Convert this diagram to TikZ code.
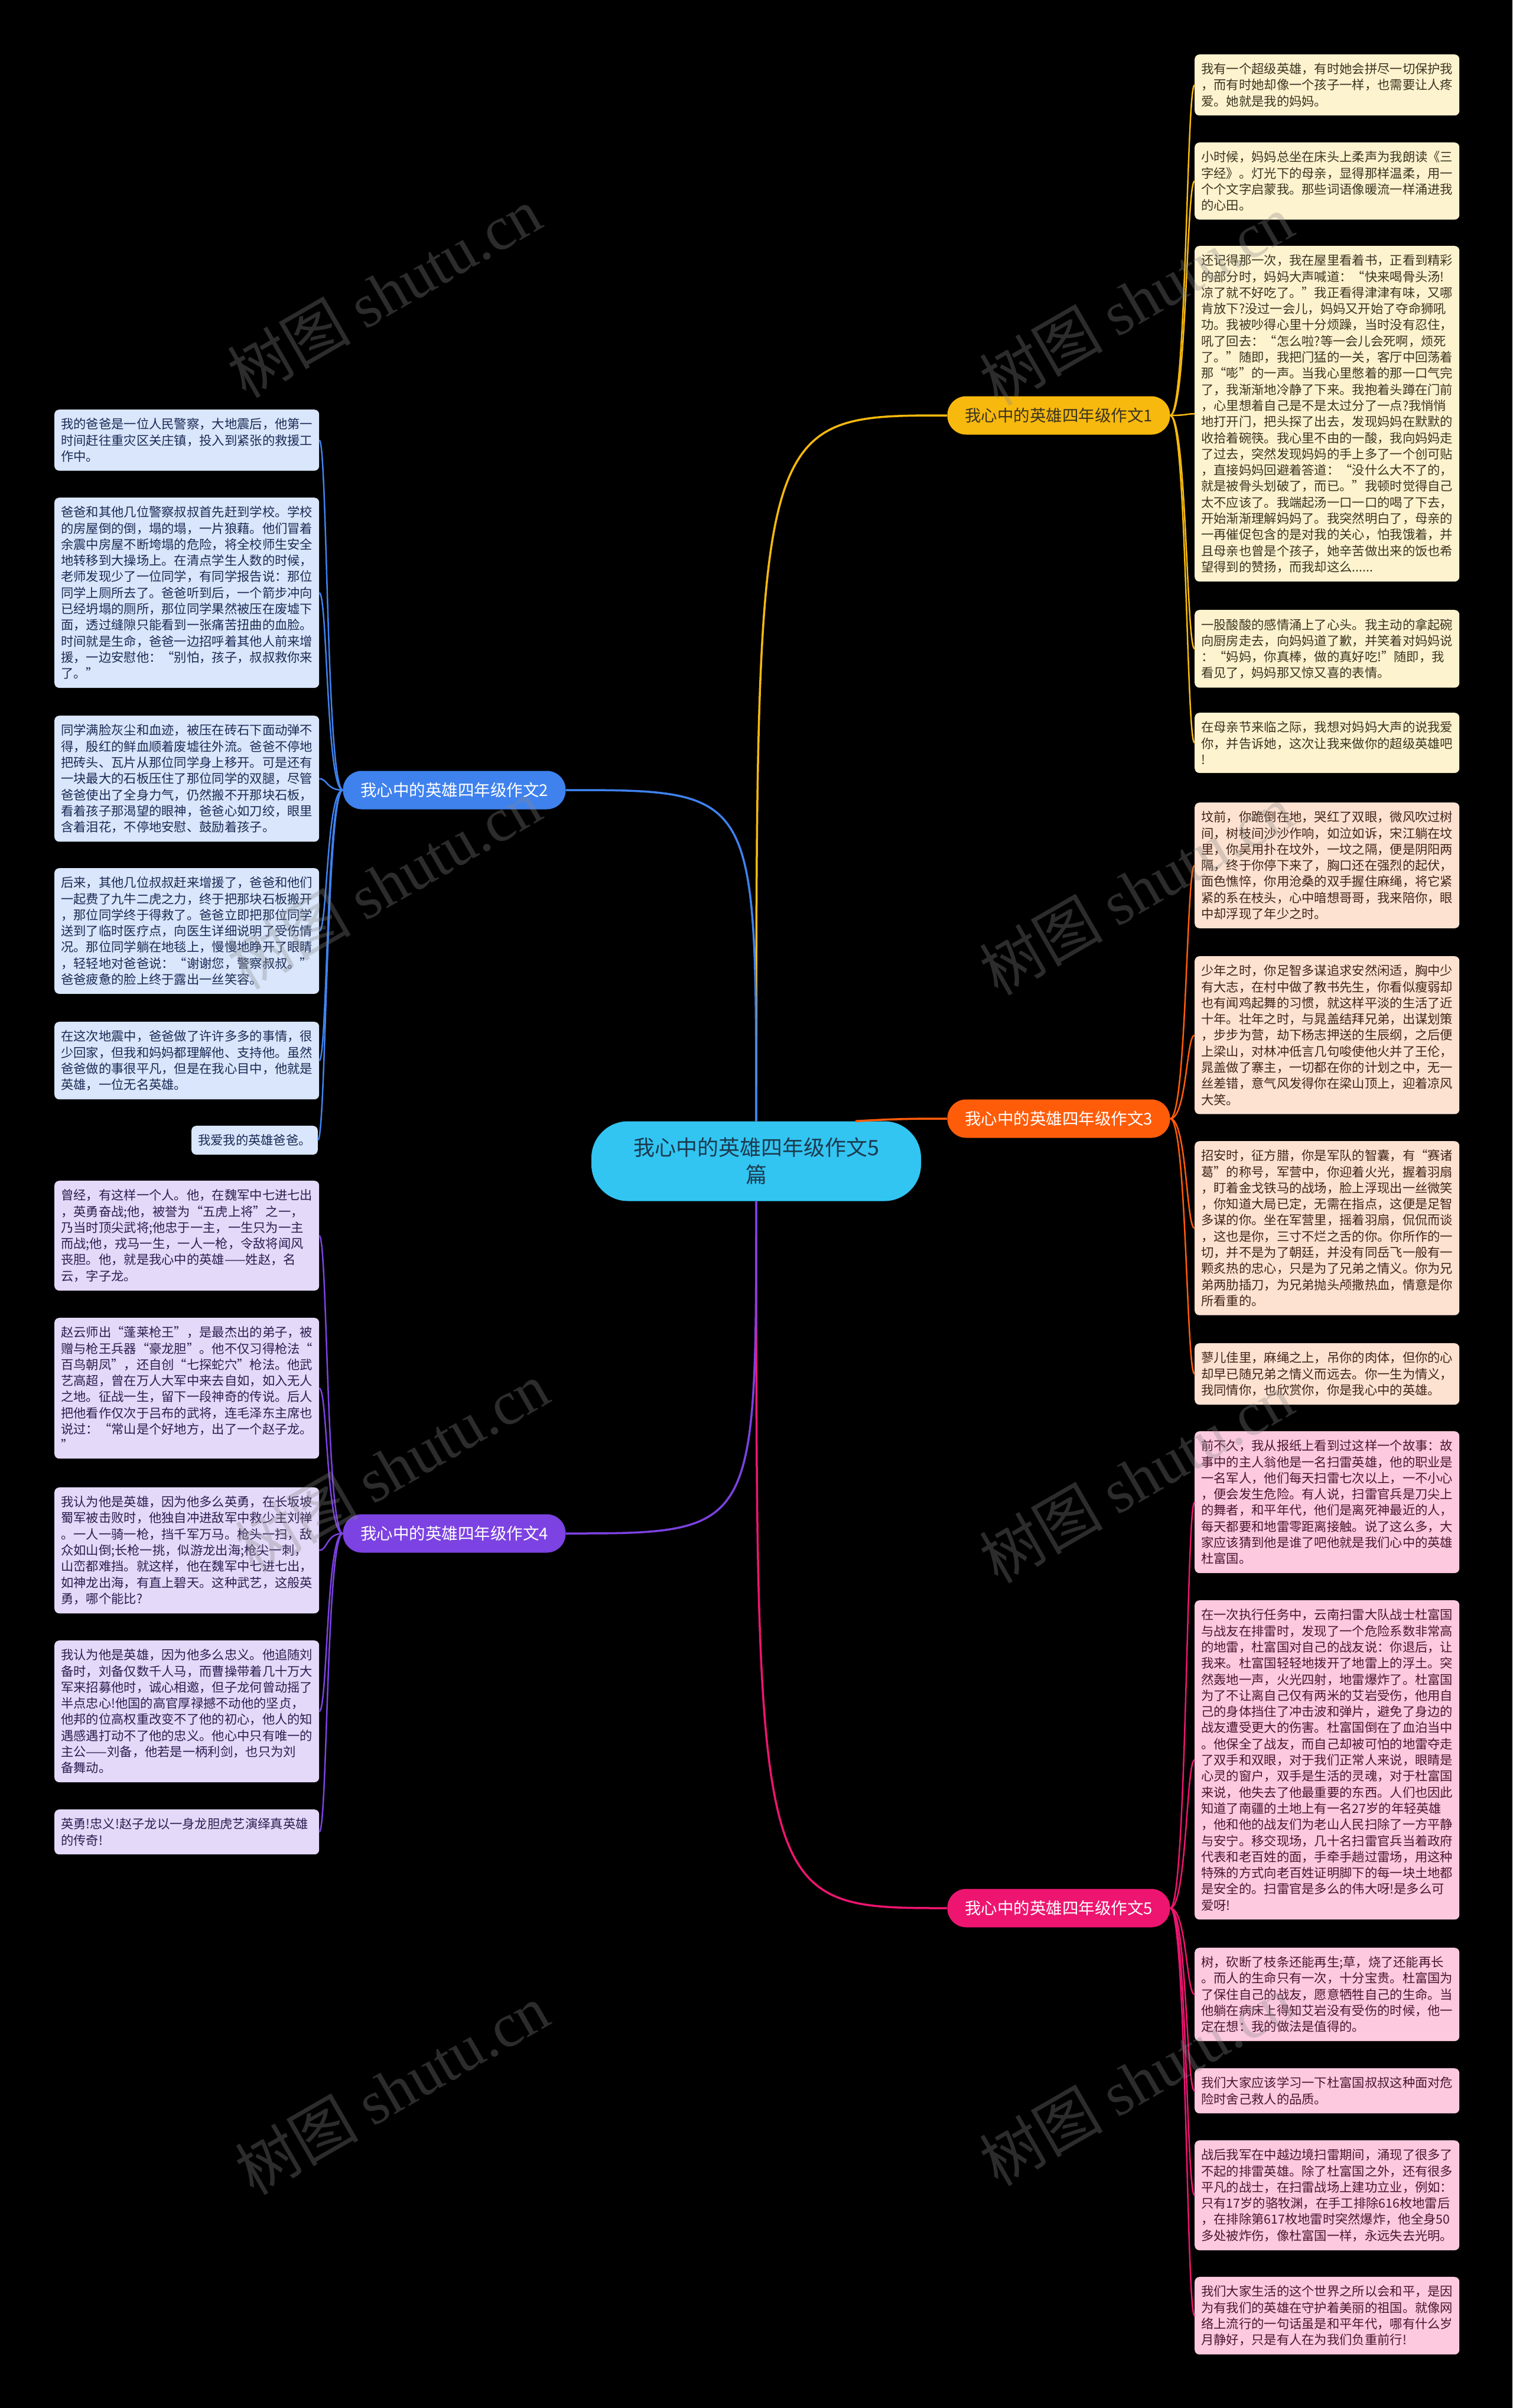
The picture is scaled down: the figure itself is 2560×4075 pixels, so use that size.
\documentclass[tikz,border=0pt]{standalone}
\usepackage{fontspec}
\newfontfamily\cjk{Noto Sans CJK SC}
\newfontfamily\wmlat{Liberation Serif}
\definecolor{bgc}{HTML}{000000}
\definecolor{cfill}{HTML}{32C5F2}
\definecolor{ctext}{HTML}{1C3A4E}
\definecolor{ybr}{HTML}{F7B90E}
\definecolor{obr}{HTML}{FF5C0A}
\definecolor{pbr}{HTML}{EE1570}
\definecolor{bbr}{HTML}{3F82EE}
\definecolor{vbr}{HTML}{7C42E2}
\definecolor{yfill}{HTML}{FEF3CF}
\definecolor{ofill}{HTML}{FDE2D2}
\definecolor{pfill}{HTML}{FDC9DF}
\definecolor{bfill}{HTML}{D9E6FB}
\definecolor{vfill}{HTML}{E4D9F9}
\definecolor{ytext}{HTML}{3A3420}
\definecolor{otext}{HTML}{402418}
\definecolor{ptext}{HTML}{4A1530}
\definecolor{btext}{HTML}{1B2A55}
\definecolor{vtext}{HTML}{2C1E50}
\definecolor{wmc}{HTML}{888888}
\newcommand\leaffont{\cjk\fontsize{21.3pt}{27.3pt}\selectfont}
\newcommand\branchfont{\cjk\fontsize{27.5pt}{33pt}\selectfont}
\newcommand\centerfont{\cjk\fontsize{36pt}{46pt}\selectfont}
\tikzset{
  leafbase/.style={rounded corners=8pt, inner xsep=11pt, inner ysep=14.5pt, align=left, font=\leaffont},
  wideleaf/.style={leafbase, text width=426pt, anchor=north west},
  yleaf/.style={wideleaf, fill=yfill, text=ytext},
  oleaf/.style={wideleaf, fill=ofill, text=otext},
  pleaf/.style={wideleaf, fill=pfill, text=ptext},
  bleaf/.style={wideleaf, fill=bfill, text=btext},
  vleaf/.style={wideleaf, fill=vfill, text=vtext},
  branchbox/.style={rounded corners=32pt, minimum width=377pt, minimum height=65pt, inner sep=0pt, font=\branchfont, text=white},
  centerbox/.style={rounded corners=62pt, minimum width=558pt, minimum height=135pt, inner sep=0pt, fill=cfill, text=ctext, font=\centerfont, align=center},
  mainline/.style={line width=3.5pt},
  leafline/.style={line width=2.5pt},
  wmark/.style={text=wmc, opacity=0.33, rotate=30, font=\fontsize{105pt}{110pt}\selectfont, inner sep=0pt}
}
\begin{document}
\begin{tikzpicture}[x=1pt,y=-1pt]
\fill[bgc] (0,0) rectangle (2560,4075);
\useasboundingbox (0,0) rectangle (2560,4075);

% center and branches
\node[centerbox] (c) at (1280,1965) {我心中的英雄四年级作文5\\篇};
\node[branchbox, fill=ybr, text=ytext] (b1) at (1792,703) {我心中的英雄四年级作文1};
\node[branchbox, fill=obr] (b3) at (1792,1893) {我心中的英雄四年级作文3};
\node[branchbox, fill=pbr] (b5) at (1792,3229) {我心中的英雄四年级作文5};
\node[branchbox, fill=bbr] (b2) at (769,1337) {我心中的英雄四年级作文2};
\node[branchbox, fill=vbr] (b4) at (769,2595) {我心中的英雄四年级作文4};

% right leaves: branch 1
\node[yleaf] (r1) at (2022,92) {我有一个超级英雄，有时她会拼尽一切保护我\\，而有时她却像一个孩子一样，也需要让人疼\\爱。她就是我的妈妈。};
\node[yleaf] (r2) at (2022,241) {小时候，妈妈总坐在床头上柔声为我朗读《三\\字经》。灯光下的母亲，显得那样温柔，用一\\个个文字启蒙我。那些词语像暖流一样涌进我\\的心田。};
\node[yleaf] (r3) at (2022,416) {还记得那一次，我在屋里看着书，正看到精彩\\的部分时，妈妈大声喊道：“快来喝骨头汤!\\凉了就不好吃了。”我正看得津津有味，又哪\\肯放下?没过一会儿，妈妈又开始了夺命狮吼\\功。我被吵得心里十分烦躁，当时没有忍住，\\吼了回去：“怎么啦?等一会儿会死啊，烦死\\了。”随即，我把门猛的一关，客厅中回荡着\\那“嘭”的一声。当我心里憋着的那一口气完\\了，我渐渐地冷静了下来。我抱着头蹲在门前\\，心里想着自己是不是太过分了一点?我悄悄\\地打开门，把头探了出去，发现妈妈在默默的\\收拾着碗筷。我心里不由的一酸，我向妈妈走\\了过去，突然发现妈妈的手上多了一个创可贴\\，直接妈妈回避着答道：“没什么大不了的，\\就是被骨头划破了，而已。”我顿时觉得自己\\太不应该了。我端起汤一口一口的喝了下去，\\开始渐渐理解妈妈了。我突然明白了，母亲的\\一再催促包含的是对我的关心，怕我饿着，并\\且母亲也曾是个孩子，她辛苦做出来的饭也希\\望得到的赞扬，而我却这么......};
\node[yleaf] (r4) at (2022,1032) {一股酸酸的感情涌上了心头。我主动的拿起碗\\向厨房走去，向妈妈道了歉，并笑着对妈妈说\\：“妈妈，你真棒，做的真好吃!”随即，我\\看见了，妈妈那又惊又喜的表情。};
\node[yleaf] (r5) at (2022,1206) {在母亲节来临之际，我想对妈妈大声的说我爱\\你，并告诉她，这次让我来做你的超级英雄吧\\!};

% right leaves: branch 3
\node[oleaf] (r6) at (2022,1358) {坟前，你跪倒在地，哭红了双眼，微风吹过树\\间，树枝间沙沙作响，如泣如诉，宋江躺在坟\\里，你吴用扑在坟外，一坟之隔，便是阴阳两\\隔，终于你停下来了，胸口还在强烈的起伏，\\面色憔悴，你用沧桑的双手握住麻绳，将它紧\\紧的系在枝头，心中暗想哥哥，我来陪你，眼\\中却浮现了年少之时。};
\node[oleaf] (r7) at (2022,1618) {少年之时，你足智多谋追求安然闲适，胸中少\\有大志，在村中做了教书先生，你看似瘦弱却\\也有闻鸡起舞的习惯，就这样平淡的生活了近\\十年。壮年之时，与晁盖结拜兄弟，出谋划策\\，步步为营，劫下杨志押送的生辰纲，之后便\\上梁山，对林冲低言几句唆使他火并了王伦，\\晁盖做了寨主，一切都在你的计划之中，无一\\丝差错，意气风发得你在梁山顶上，迎着凉风\\大笑。};
\node[oleaf] (r8) at (2022,1931) {招安时，征方腊，你是军队的智囊，有“赛诸\\葛”的称号，军营中，你迎着火光，握着羽扇\\，盯着金戈铁马的战场，脸上浮现出一丝微笑\\，你知道大局已定，无需在指点，这便是足智\\多谋的你。坐在军营里，摇着羽扇，侃侃而谈\\，这也是你，三寸不烂之舌的你。你所作的一\\切，并不是为了朝廷，并没有同岳飞一般有一\\颗炙热的忠心，只是为了兄弟之情义。你为兄\\弟两肋插刀，为兄弟抛头颅撒热血，情意是你\\所看重的。};
\node[oleaf] (r9) at (2022,2273) {蓼儿佳里，麻绳之上，吊你的肉体，但你的心\\却早已随兄弟之情义而远去。你一生为情义，\\我同情你，也欣赏你，你是我心中的英雄。};

% right leaves: branch 5
\node[pleaf] (r10) at (2022,2422) {前不久，我从报纸上看到过这样一个故事：故\\事中的主人翁他是一名扫雷英雄，他的职业是\\一名军人，他们每天扫雷七次以上，一不小心\\，便会发生危险。有人说，扫雷官兵是刀尖上\\的舞者，和平年代，他们是离死神最近的人，\\每天都要和地雷零距离接触。说了这么多，大\\家应该猜到他是谁了吧他就是我们心中的英雄\\杜富国。};
\node[pleaf] (r11) at (2022,2708) {在一次执行任务中，云南扫雷大队战士杜富国\\与战友在排雷时，发现了一个危险系数非常高\\的地雷，杜富国对自己的战友说：你退后，让\\我来。杜富国轻轻地拨开了地雷上的浮土。突\\然轰地一声，火光四射，地雷爆炸了。杜富国\\为了不让离自己仅有两米的艾岩受伤，他用自\\己的身体挡住了冲击波和弹片，避免了身边的\\战友遭受更大的伤害。杜富国倒在了血泊当中\\。他保全了战友，而自己却被可怕的地雷夺走\\了双手和双眼，对于我们正常人来说，眼睛是\\心灵的窗户，双手是生活的灵魂，对于杜富国\\来说，他失去了他最重要的东西。人们也因此\\知道了南疆的土地上有一名27岁的年轻英雄\\，他和他的战友们为老山人民扫除了一方平静\\与安宁。移交现场，几十名扫雷官兵当着政府\\代表和老百姓的面，手牵手趟过雷场，用这种\\特殊的方式向老百姓证明脚下的每一块土地都\\是安全的。扫雷官是多么的伟大呀!是多么可\\爱呀!};
\node[pleaf] (r12) at (2022,3296) {树，砍断了枝条还能再生;草，烧了还能再长\\。而人的生命只有一次，十分宝贵。杜富国为\\了保住自己的战友，愿意牺牲自己的生命。当\\他躺在病床上得知艾岩没有受伤的时候，他一\\定在想：我的做法是值得的。};
\node[pleaf] (r13) at (2022,3500) {我们大家应该学习一下杜富国叔叔这种面对危\\险时舍己救人的品质。};
\node[pleaf] (r14) at (2022,3622) {战后我军在中越边境扫雷期间，涌现了很多了\\不起的排雷英雄。除了杜富国之外，还有很多\\平凡的战士，在扫雷战场上建功立业，例如：\\只有17岁的骆牧渊，在手工排除616枚地雷后\\，在排除第617枚地雷时突然爆炸，他全身50\\多处被炸伤，像杜富国一样，永远失去光明。};
\node[pleaf] (r15) at (2022,3853) {我们大家生活的这个世界之所以会和平，是因\\为有我们的英雄在守护着美丽的祖国。就像网\\络上流行的一句话虽是和平年代，哪有什么岁\\月静好，只是有人在为我们负重前行!};

% left leaves: branch 2
\node[bleaf] (l1) at (92,693) {我的爸爸是一位人民警察，大地震后，他第一\\时间赶往重灾区关庄镇，投入到紧张的救援工\\作中。};
\node[bleaf] (l2) at (92,842) {爸爸和其他几位警察叔叔首先赶到学校。学校\\的房屋倒的倒，塌的塌，一片狼藉。他们冒着\\余震中房屋不断垮塌的危险，将全校师生安全\\地转移到大操场上。在清点学生人数的时候，\\老师发现少了一位同学，有同学报告说：那位\\同学上厕所去了。爸爸听到后，一个箭步冲向\\已经坍塌的厕所，那位同学果然被压在废墟下\\面，透过缝隙只能看到一张痛苦扭曲的血脸。\\时间就是生命，爸爸一边招呼着其他人前来增\\援，一边安慰他：“别怕，孩子，叔叔救你来\\了。”};
\node[bleaf] (l3) at (92,1211) {同学满脸灰尘和血迹，被压在砖石下面动弹不\\得，殷红的鲜血顺着废墟往外流。爸爸不停地\\把砖头、瓦片从那位同学身上移开。可是还有\\一块最大的石板压住了那位同学的双腿，尽管\\爸爸使出了全身力气，仍然搬不开那块石板，\\看着孩子那渴望的眼神，爸爸心如刀绞，眼里\\含着泪花，不停地安慰、鼓励着孩子。};
\node[bleaf] (l4) at (92,1469) {后来，其他几位叔叔赶来增援了，爸爸和他们\\一起费了九牛二虎之力，终于把那块石板搬开\\，那位同学终于得救了。爸爸立即把那位同学\\送到了临时医疗点，向医生详细说明了受伤情\\况。那位同学躺在地毯上，慢慢地睁开了眼睛\\，轻轻地对爸爸说：“谢谢您，警察叔叔。”\\爸爸疲惫的脸上终于露出一丝笑容。};
\node[bleaf] (l5) at (92,1729) {在这次地震中，爸爸做了许许多多的事情，很\\少回家，但我和妈妈都理解他、支持他。虽然\\爸爸做的事很平凡，但是在我心目中，他就是\\英雄，一位无名英雄。};
\node[leafbase, fill=bfill, text=btext, anchor=north east] (l6) at (538,1905) {我爱我的英雄爸爸。};

% left leaves: branch 4
\node[vleaf] (l7) at (92,1998) {曾经，有这样一个人。他，在魏军中七进七出\\，英勇奋战;他，被誉为“五虎上将”之一，\\乃当时顶尖武将;他忠于一主，一生只为一主\\而战;他，戎马一生，一人一枪，令敌将闻风\\丧胆。他，就是我心中的英雄——姓赵，名\\云，字子龙。};
\node[vleaf] (l8) at (92,2230) {赵云师出“蓬莱枪王”，是最杰出的弟子，被\\赠与枪王兵器“豪龙胆”。他不仅习得枪法“\\百鸟朝凤”，还自创“七探蛇穴”枪法。他武\\艺高超，曾在万人大军中来去自如，如入无人\\之地。征战一生，留下一段神奇的传说。后人\\把他看作仅次于吕布的武将，连毛泽东主席也\\说过：“常山是个好地方，出了一个赵子龙。\\”};
\node[vleaf] (l9) at (92,2517) {我认为他是英雄，因为他多么英勇，在长坂坡\\蜀军被击败时，他独自冲进敌军中救少主刘禅\\。一人一骑一枪，挡千军万马。枪头一扫，敌\\众如山倒;长枪一挑，似游龙出海;枪尖一刺，\\山峦都难挡。就这样，他在魏军中七进七出，\\如神龙出海，有直上碧天。这种武艺，这般英\\勇，哪个能比?};
\node[vleaf] (l10) at (92,2776) {我认为他是英雄，因为他多么忠义。他追随刘\\备时，刘备仅数千人马，而曹操带着几十万大\\军来招募他时，诚心相邀，但子龙何曾动摇了\\半点忠心!他国的高官厚禄撼不动他的坚贞，\\他邦的位高权重改变不了他的初心，他人的知\\遇感遇打动不了他的忠义。他心中只有唯一的\\主公——刘备，他若是一柄利剑，也只为刘\\备舞动。};
\node[vleaf] (l11) at (92,3062) {英勇!忠义!赵子龙以一身龙胆虎艺演绎真英雄\\的传奇!};

% main connectors
\coordinate (cor) at ([xshift=168pt]c.north);
\draw[mainline, ybr] (c.north) .. controls (c.north |- b1.west) .. (b1.west);
\draw[mainline, bbr] (c.north) .. controls (c.north |- b2.east) .. (b2.east);
\draw[mainline, obr] (cor) .. controls +(70,-4) and +(-60,0) .. (b3.west);
\draw[mainline, pbr] (c.south) .. controls (c.south |- b5.west) .. (b5.west);
\draw[mainline, vbr] (c.south) .. controls (c.south |- b4.east) .. (b4.east);

% leaf connectors right
\foreach \l in {r1,r2,r3,r4,r5}
  \draw[leafline, ybr] (b1.east) .. controls +(28,0) and +(-14,0) .. (\l.west);
\foreach \l in {r6,r7,r8,r9}
  \draw[leafline, obr] (b3.east) .. controls +(28,0) and +(-14,0) .. (\l.west);
\foreach \l in {r10,r11,r12,r13,r14,r15}
  \draw[leafline, pbr] (b5.east) .. controls +(28,0) and +(-14,0) .. (\l.west);
% leaf connectors left
\foreach \l in {l1,l2,l3,l4,l5,l6}
  \draw[leafline, bbr] (b2.west) .. controls +(-28,0) and +(14,0) .. (\l.east);
\foreach \l in {l7,l8,l9,l10,l11}
  \draw[leafline, vbr] (b4.west) .. controls +(-28,0) and +(14,0) .. (\l.east);

% watermarks
\foreach \wx/\wy [count=\i] in {650/494, 1923/507, 650/1495, 1923/1505, 663/2482, 1923/2500, 663/3535, 1923/3520}
  \node[wmark] (wm\i) at (\wx,\wy) {\cjk 树图 \wmlat shutu.cn};
\end{tikzpicture}
\end{document}
